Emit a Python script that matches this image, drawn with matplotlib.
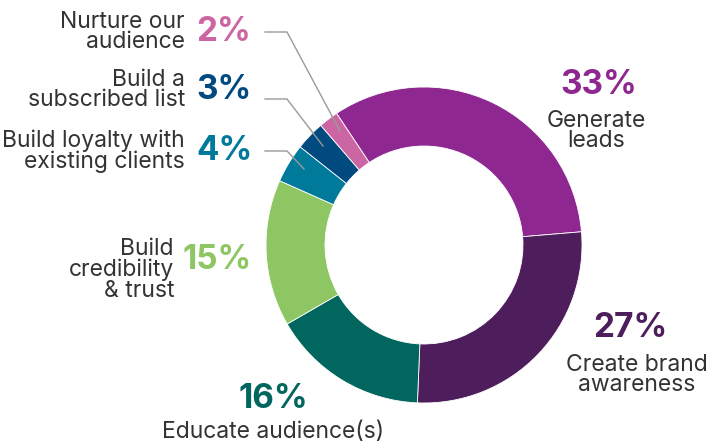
import matplotlib.pyplot as plt

# content goals, clockwise from the top
goals = ["Generate\nleads", "Create brand\nawareness", "Educate audience(s)",
         "Build\ncredibility\n& trust", "Build loyalty with\nexisting clients",
         "Build a\nsubscribed list", "Nurture our\naudience"]
shares = [33, 27, 16, 15, 4, 3, 2]
colors = ["#8e278f", "#4d1d5c", "#00665e", "#8dc663", "#007a9b", "#004a7f", "#cc66a3"]

W, H = 716, 445
TEXT = "#333333"
LINE = "#9a9a9a"
plt.rcParams["font.family"] = ["Inter", "DejaVu Sans"]

fig = plt.figure(figsize=(W / 100, H / 100), dpi=100)
ax = fig.add_axes([0, 0, 1, 1])

# donut, positioned in pixel units (y measured from the bottom)
cx, cy, r_out, r_in = 424, H - 245, 158, 99
ax.pie(shares, colors=colors, startangle=123.6, counterclock=False,
       center=(cx, cy), radius=r_out,
       wedgeprops=dict(width=r_out - r_in, edgecolor="white", linewidth=0.6))
ax.set_xlim(0, W)
ax.set_ylim(0, H)
ax.set_aspect("equal")
ax.axis("off")


def y(v):
    return H - v


def pct(i, x, yy, ha="center"):
    ax.text(x, y(yy), f"{shares[i]}%", color=colors[i], fontsize=24,
            fontweight="bold", ha=ha, va="center")


def label(i, x, yy, ha="center"):
    ax.text(x, y(yy), goals[i], color=TEXT, fontsize=16.5, ha=ha, va="center",
            linespacing=0.92, multialignment=ha)


# right side and bottom
pct(0, 599, 85)
label(0, 596, 131)
pct(1, 630, 328)
label(1, 637, 375)
pct(2, 273, 399)
label(2, 273, 432)

# left side
pct(3, 217, 260)
label(3, 174, 270, ha="right")

small = [(4, 151, 151, (304, 169)), (5, 90, 99, (323, 146)), (6, 32, 32, (340, 131))]
for i, py, ly, tip in small:
    pct(i, 196, py, ha="left")
    label(i, 185, py, ha="right")
    ax.plot([265, 287, tip[0]], [y(ly), y(ly), y(tip[1])], color=LINE, lw=1)

fig.savefig("out.png", dpi=100)
